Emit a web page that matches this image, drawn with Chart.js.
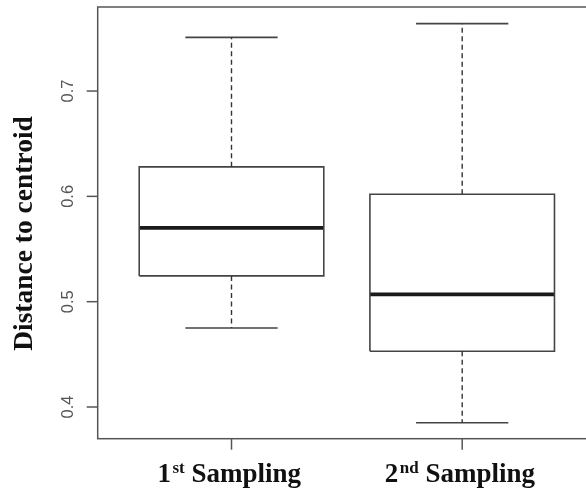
<!DOCTYPE html>
<html>
<head>
<meta charset="utf-8">
<script src="https://cdn.jsdelivr.net/npm/chart.js@4"></script>
<style>
  html, body { margin: 0; padding: 0; background: #fff; overflow: hidden; }
  #wrap { width: 620px; height: 489px; }
</style>
</head>
<body>
<div id="wrap"><canvas id="boxChart" width="620" height="489"></canvas></div>
<script>
// data
const groupPos = [1, 2];
const ordinals = ["1", "2"];
const suffixes = ["st", "nd"];
const groupWord = "Sampling";
const whiskerLow = [0.475, 0.385];
const q1 = [0.5245, 0.453];
const medians = [0.570, 0.507];
const q3 = [0.628, 0.602];
const whiskerHigh = [0.751, 0.764];
const yTicks = [0.4, 0.5, 0.6, 0.7];
const yTitle = "Distance to centroid";

const BOX_HALF = 0.4;
const CAP_HALF = 0.2;

function segs(list) {
    // list of [x1,y1,x2,y2] -> points with gaps between
    const pts = [];
    list.forEach((s, i) => {
        if (i > 0) pts.push({ x: s[0], y: null });
        pts.push({ x: s[0], y: s[1] }, { x: s[2], y: s[3] });
    });
    return pts;
}

const boxPts = [];
groupPos.forEach((c, i) => {
    if (i > 0) boxPts.push({ x: c, y: null });
    boxPts.push(
        { x: c - BOX_HALF, y: q1[i] },
        { x: c + BOX_HALF, y: q1[i] },
        { x: c + BOX_HALF, y: q3[i] },
        { x: c - BOX_HALF, y: q3[i] },
        { x: c - BOX_HALF, y: q1[i] }
    );
});
const medianPts = segs(groupPos.map((c, i) => [c - BOX_HALF, medians[i], c + BOX_HALF, medians[i]]));
const whiskerPts = segs(groupPos.flatMap((c, i) => [
    [c, q3[i], c, whiskerHigh[i]],
    [c, q1[i], c, whiskerLow[i]],
]));
const capPts = segs(groupPos.flatMap((c, i) => [
    [c - CAP_HALF, whiskerHigh[i], c + CAP_HALF, whiskerHigh[i]],
    [c - CAP_HALF, whiskerLow[i], c + CAP_HALF, whiskerLow[i]],
]));

function lineSet(data, color, width, dash) {
    return {
        data,
        borderColor: color,
        borderWidth: width,
        borderDash: dash || [],
        pointRadius: 0,
        tension: 0,
        fill: false,
        spanGaps: false,
        borderCapStyle: "butt",
    };
}

const axesPlugin = {
    id: "rAxes",
    afterDraw(chart) {
        const { ctx, chartArea: a, scales } = chart;
        const xs = scales.x, ys = scales.y;
        ctx.save();
        ctx.strokeStyle = "#555";
        ctx.lineWidth = 1.5;
        ctx.strokeRect(a.left, a.top, a.right - a.left, a.bottom - a.top);

        // y ticks
        ctx.fillStyle = "#555";
        ctx.font = "16.5px 'Liberation Sans', Arial, sans-serif";
        yTicks.forEach((v) => {
            const y = ys.getPixelForValue(v);
            ctx.beginPath();
            ctx.moveTo(a.left - 11, y);
            ctx.lineTo(a.left, y);
            ctx.stroke();
            ctx.save();
            ctx.translate(72.5, y);
            ctx.rotate(-Math.PI / 2);
            ctx.textAlign = "center";
            ctx.textBaseline = "alphabetic";
            ctx.fillText(v.toFixed(1), 0, 0);
            ctx.restore();
        });

        // x ticks + labels with superscripts
        ctx.fillStyle = "#111";
        groupPos.forEach((c, i) => {
            const x = xs.getPixelForValue(c);
            ctx.beginPath();
            ctx.moveTo(x, a.bottom);
            ctx.lineTo(x, a.bottom + 11);
            ctx.stroke();

            const big = "bold 27px 'Liberation Serif', 'Times New Roman', serif";
            const small = "bold 17px 'Liberation Serif', 'Times New Roman', serif";
            ctx.font = big;
            const w1 = ctx.measureText(ordinals[i]).width;
            const w3 = ctx.measureText(" " + groupWord).width;
            ctx.font = small;
            const w2 = ctx.measureText(suffixes[i]).width;
            let sx = x - (w1 + w2 + w3) / 2 - 3;
            const base = 482;
            ctx.textAlign = "left";
            ctx.textBaseline = "alphabetic";
            ctx.font = big;
            ctx.fillText(ordinals[i], sx, base);
            ctx.font = small;
            ctx.fillText(suffixes[i], sx + w1 + 1.5, base - 9.5);
            ctx.font = big;
            ctx.fillText(" " + groupWord, sx + w1 + w2 + 1.5, base);
        });

        // y title
        ctx.save();
        ctx.translate(32, 233.5);
        ctx.rotate(-Math.PI / 2);
        ctx.font = "bold 27.5px 'Liberation Serif', 'Times New Roman', serif";
        ctx.textAlign = "center";
        ctx.textBaseline = "alphabetic";
        ctx.fillText(yTitle, 0, 0);
        ctx.restore();
        ctx.restore();
    },
};

document.addEventListener("DOMContentLoaded", () => {
    const canvas = document.getElementById("boxChart");
    new Chart(canvas, {
        type: "line",
        data: {
            datasets: [
                lineSet(whiskerPts, "#333", 1.4, [5, 3.5]),
                lineSet(capPts, "#444", 1.6),
                lineSet(boxPts, "#444", 1.6),
                lineSet(medianPts, "#1a1a1a", 3.8),
            ],
        },
        options: {
            responsive: false,
            animation: false,
            devicePixelRatio: 1,
            layout: { padding: { left: 97.7, top: 7, right: 24, bottom: 50.3 } },
            plugins: { legend: { display: false }, tooltip: { enabled: false } },
            scales: {
                x: { type: "linear", min: 0.42, max: 2.58, display: false },
                y: { type: "linear", min: 0.3699, max: 0.7798, display: false },
            },
        },
        plugins: [axesPlugin],
    });
});
</script>
</body>
</html>
